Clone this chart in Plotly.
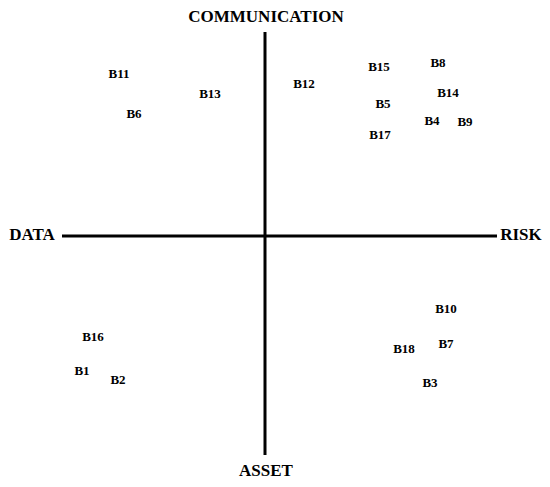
import plotly.graph_objects as go

# label positions, centre of the cross = (0, 0)
names = ["B1", "B2", "B3", "B4", "B5", "B6", "B7", "B8", "B9",
         "B10", "B11", "B12", "B13", "B14", "B15", "B16", "B17", "B18"]
xs = [-183, -147, 165, 167, 118, -131, 181, 173, 200,
      181, -146, 39, -55, 183, 114, -172, 115, 139]
ys = [-136, -145, -148, 114, 131, 121, -109, 172, 113,
      -74, 161, 151, 141, 142, 168, -102, 100, -114]

# axis arms
h_x = [-203, 232]
v_y = [-219, 204]
axis_names = ["COMMUNICATION", "ASSET", "DATA", "RISK"]
axis_x = [1, 1, -233, 256]
axis_y = [218, -236, 0, 0]

fig = go.Figure()
fig.add_trace(go.Scatter(x=h_x, y=[0, 0], mode="lines",
                         line=dict(color="black", width=3), hoverinfo="skip"))
fig.add_trace(go.Scatter(x=[0, 0], y=v_y, mode="lines",
                         line=dict(color="black", width=3), hoverinfo="skip"))
fig.add_trace(go.Scatter(x=xs, y=ys, mode="text", text=names, cliponaxis=False,
                         textfont=dict(family="Liberation Serif", size=13, color="black")))
fig.add_trace(go.Scatter(x=axis_x, y=axis_y, mode="text", text=axis_names, cliponaxis=False,
                         textfont=dict(family="Liberation Serif", size=17, color="black")))

fig.update_layout(
    width=550, height=487,
    margin=dict(l=0, r=0, t=0, b=0),
    paper_bgcolor="white", plot_bgcolor="white",
    showlegend=False,
    font=dict(family="Liberation Serif"),
)
# ranges shifted by the 8px page margin of the html body
fig.update_xaxes(range=[-257, 293], visible=False, fixedrange=True)
fig.update_yaxes(range=[-259, 228], visible=False, fixedrange=True)

# bold text
for tr in fig.data:
    if tr.mode == "text":
        tr.text = ["<b>" + t + "</b>" for t in tr.text]

fig.write_html("out.html")
